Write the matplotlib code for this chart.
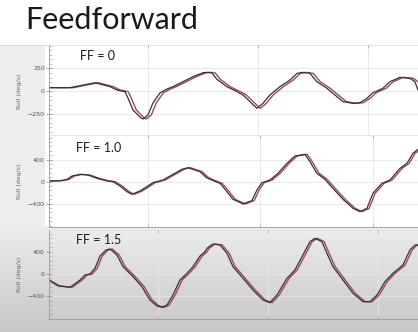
import numpy as np
import matplotlib
matplotlib.use("Agg")
import matplotlib.pyplot as plt
from matplotlib.ticker import AutoMinorLocator

# ---------------- data ----------------
title = "Feedforward"
panel_labels = ["FF = 0", "FF = 1.0", "FF = 1.5"]
ylabel = "Roll (deg/s)"

# FF = 0
p1_t_set = [0.1, 0.291, 0.518, 0.655, 0.718, 0.791, 0.818, 0.864, 0.927, 0.955, 1.0, 1.045, 1.109, 1.173,
            1.227, 1.318, 1.409, 1.5, 1.545, 1.582, 1.627, 1.718, 1.809, 1.864, 1.927, 1.991, 2.045, 2.109,
            2.2, 2.291, 2.355, 2.409, 2.473, 2.536, 2.627, 2.718, 2.773, 2.864, 2.927, 2.991, 3.045, 3.136,
            3.2, 3.291, 3.382, 3.427, 3.455]
p1_t_gyro = [0.1, 0.321, 0.548, 0.685, 0.748, 0.821, 0.848, 0.894, 0.957, 0.985, 1.03, 1.075, 1.139, 1.203,
             1.257, 1.348, 1.439, 1.53, 1.575, 1.612, 1.657, 1.748, 1.839, 1.894, 1.957, 2.021, 2.075, 2.139,
             2.23, 2.321, 2.385, 2.439, 2.503, 2.566, 2.657, 2.748, 2.803, 2.894, 2.957, 3.021, 3.075, 3.166,
             3.23, 3.321, 3.412, 3.457, 3.485]
p1_roll = [37, 37, 92, 48, 11, -8, -78, -211, -289, -311, -267, -133, -22, 22, 48, 103, 159, 203, 207, 200,
           130, 48, -7, -44, -118, -192, -137, -44, 48, 122, 196, 207, 196, 103, 30, -63, -118, -137, -130,
           -81, -19, 30, 103, 152, 141, 103, 11]

# FF = 1.0
p2_t_set = [0.1, 0.2, 0.264, 0.309, 0.382, 0.455, 0.536, 0.627, 0.682, 0.745, 0.809, 0.855, 0.927, 1.0,
            1.045, 1.136, 1.227, 1.309, 1.364, 1.445, 1.473, 1.527, 1.564, 1.655, 1.718, 1.773, 1.864, 1.945,
            1.991, 2.036, 2.109, 2.182, 2.264, 2.336, 2.427, 2.473, 2.536, 2.609, 2.682, 2.773, 2.864, 2.927,
            2.991, 3.045, 3.127, 3.2, 3.291, 3.355, 3.409, 3.455]
p2_t_gyro = [0.1, 0.22, 0.284, 0.329, 0.402, 0.475, 0.556, 0.647, 0.702, 0.765, 0.829, 0.875, 0.947, 1.02,
             1.065, 1.156, 1.247, 1.329, 1.384, 1.465, 1.493, 1.547, 1.584, 1.675, 1.738, 1.793, 1.884, 1.965,
             2.011, 2.056, 2.129, 2.202, 2.284, 2.356, 2.447, 2.493, 2.556, 2.629, 2.702, 2.793, 2.884, 2.947,
             3.011, 3.065, 3.147, 3.22, 3.311, 3.375, 3.429, 3.475]
p2_roll = [13, 18, 42, 103, 133, 121, 61, 13, 0, -78, -182, -229, -169, -78, -18, 30, 133, 225, 255, 200,
           182, 80, 42, -30, -182, -320, -405, -345, -151, -18, 30, 152, 334, 467, 498, 364, 152, 42, -121,
           -320, -484, -545, -484, -212, -30, 30, 243, 334, 516, 589]

# FF = 1.5
p3_t_set = [0.1, 0.182, 0.291, 0.382, 0.427, 0.473, 0.518, 0.564, 0.618, 0.655, 0.718, 0.773, 0.864, 0.945,
            1.018, 1.082, 1.127, 1.173, 1.227, 1.291, 1.355, 1.409, 1.473, 1.518, 1.536, 1.591, 1.655, 1.718,
            1.773, 1.864, 1.955, 2.045, 2.109, 2.173, 2.264, 2.336, 2.4, 2.473, 2.518, 2.582, 2.627, 2.682,
            2.773, 2.864, 2.955, 3.018, 3.082, 3.155, 3.227, 3.318, 3.382, 3.427, 3.455]
p3_t_gyro = [0.1, 0.202, 0.311, 0.402, 0.447, 0.493, 0.538, 0.584, 0.638, 0.675, 0.738, 0.793, 0.884, 0.965,
             1.038, 1.102, 1.147, 1.193, 1.247, 1.311, 1.375, 1.429, 1.493, 1.538, 1.556, 1.611, 1.675, 1.738,
             1.793, 1.884, 1.975, 2.065, 2.129, 2.193, 2.284, 2.356, 2.42, 2.493, 2.538, 2.602, 2.647, 2.702,
             2.793, 2.884, 2.975, 3.038, 3.102, 3.175, 3.247, 3.338, 3.402, 3.447, 3.475]
p3_roll = [-107, -213, -237, -107, -18, 0, 101, 320, 427, 445, 338, 130, -48, -226, -463, -570, -593, -552,
           -374, -107, 12, 130, 320, 397, 457, 534, 516, 368, 130, -77, -285, -463, -511, -374, -77, 71, 308,
           575, 635, 575, 368, 130, -107, -343, -493, -493, -374, -137, 12, 160, 427, 516, 516]

yticks = [[-250, 0, 250], [-400, 0, 400], [-400, 0, 400]]
xticks = [[1.0, 2.0, 3.0], [1.0, 2.018, 3.045], [1.091, 2.091, 3.091]]

# ---------------- figure ----------------
W, H = 418, 332
fig = plt.figure(figsize=(W / 100, H / 100), dpi=100)
fig.patch.set_facecolor("white")

bg = fig.add_axes([0, 0, 1, 1], zorder=-10)
bg.set_xlim(0, 1)
bg.set_ylim(0, 1)
bg.axis("off")
# left light strip
bg.add_patch(plt.Rectangle((0, 1 - 226 / H), 45 / W, (226 - 45) / H, color="#ededed", lw=0))
# bottom gradient band
grad = np.linspace(0, 1, 100)[:, None]
c_top = np.array([0.93, 0.93, 0.93])
c_bot = np.array([0.78, 0.78, 0.78])
img = c_top[None, None, :] * (1 - grad[:, :, None]) + c_bot[None, None, :] * grad[:, :, None]
bg.imshow(img, extent=(0, 1, 0, 1 - 226 / H), aspect="auto", origin="upper")
bg.axhline(1 - 45 / H, color="#dcdcdc", lw=0.8)

fig.text(25 / W, 1 - 29 / H, title, fontsize=22, family="Lato", fontweight="normal",
         va="baseline", ha="left", color="#1a1a1a")

axes_rect = [
    [49 / W, 1 - 138 / H, 1 - 49 / W, 93 / H],
    [49 / W, 1 - 227 / H, 1 - 49 / W, 92 / H],
    [49 / W, 1 - 319 / H, 1 - 49 / W, 89 / H],
]
ylims = [(-522, 511), (-824, 849), (-801, 783)]
series = [(p1_t_set, p1_t_gyro, p1_roll), (p2_t_set, p2_t_gyro, p2_roll), (p3_t_set, p3_t_gyro, p3_roll)]
label_pos = [(80, 56), (76, 148), (76, 240)]

for i in range(3):
    ax = fig.add_axes(axes_rect[i])
    if i < 2:
        ax.set_facecolor("white")
    else:
        ax.patch.set_alpha(0)
    ts, tg, v = series[i]
    ax.plot(tg, v, color="#9a4a5e", lw=1.0, solid_joinstyle="round")
    ax.plot(ts, v, color="#3a3033", lw=0.9, solid_joinstyle="round")
    ax.set_xlim(0.1, 3.455)
    ax.set_ylim(*ylims[i])
    ax.set_yticks(yticks[i])
    ax.set_xticks(xticks[i])
    ax.set_xticklabels([])
    ax.yaxis.set_minor_locator(AutoMinorLocator(5))
    ax.tick_params(axis="y", which="major", direction="inout", length=4, width=0.5,
                   labelsize=4.5, labelcolor="#555555", color="#888888", pad=1)
    ax.tick_params(axis="y", which="minor", direction="in", length=2, width=0.4, color="#999999")
    ax.tick_params(axis="x", direction="in", length=2.5, width=0.5, color="#999999", top=True)
    ax.grid(True, color="#e6e6e6", lw=0.6)
    ax.spines["right"].set_visible(False)
    ax.spines["top"].set_color("#e2e2e2")
    ax.spines["bottom"].set_color("#9a9a9a")
    ax.spines["left"].set_color("#9a9a9a")
    for s in ax.spines.values():
        s.set_linewidth(0.6)
    ax.set_ylabel(ylabel, fontsize=4.5, color="#666666")
    ax.yaxis.set_label_coords(-0.072, 0.5)
    fig.text(label_pos[i][0] / W, 1 - label_pos[i][1] / H, panel_labels[i], fontsize=9,
             family="Lato", va="center", ha="left", color="#1a1a1a")

fig.savefig("out.png", dpi=100)
